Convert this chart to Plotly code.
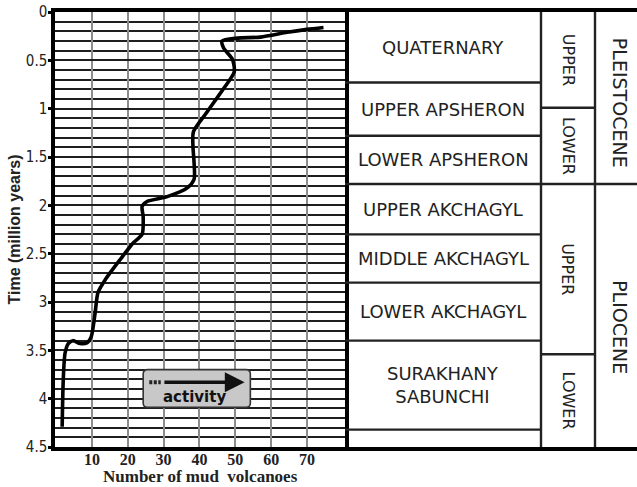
import plotly.graph_objects as go

# ---------------- data ----------------
# cumulative number of mud volcanoes vs time (million years)
volcano_count = [1.7, 2.0, 2.5, 3.4, 4.7, 6.7, 8.7, 9.8, 10.9, 11.7, 13.7, 17.9, 21.5, 24.0,
                 24.3, 24.0, 25.4, 31.0, 36.6, 38.5, 38.5, 38.2, 38.3, 42.0, 46.6, 49.7,
                 49.2, 46.7, 46.3, 50.6, 57.0, 64.5, 70.0, 74.6]
time_myr = [4.29, 3.81, 3.53, 3.43, 3.40, 3.43, 3.42, 3.36, 3.11, 2.90, 2.77, 2.56, 2.39, 2.30,
            2.12, 2.01, 1.96, 1.91, 1.82, 1.73, 1.56, 1.40, 1.24, 1.04, 0.80, 0.62,
            0.49, 0.37, 0.30, 0.27, 0.26, 0.21, 0.18, 0.16]

x_tick_vals = [10, 20, 30, 40, 50, 60, 70]
x_tick_text = ["10", "20", "30", "40", "50", "60", "70"]
y_tick_vals = [0, 0.5, 1, 1.5, 2, 2.5, 3, 3.5, 4, 4.5]
y_tick_text = ["0", "0.5", "1", "1.5", "2", "2.5", "3", "3.5", "4", "4.5"]

# stratigraphic table (boundaries in million years)
stage_names = ["QUATERNARY", "UPPER APSHERON", "LOWER APSHERON", "UPPER AKCHAGYL",
               "MIDDLE AKCHAGYL", "LOWER AKCHAGYL", "SURAKHANY<br>SABUNCHI", ""]
stage_bounds = [0, 0.73, 1.28, 1.78, 2.30, 2.80, 3.40, 4.32, 4.5]
sub_names = ["UPPER", "LOWER", "UPPER", "LOWER"]
sub_bounds = [0, 0.99, 1.78, 3.54, 4.5]
epoch_names = ["PLEISTOCENE", "PLIOCENE"]
epoch_bounds = [0, 1.78, 4.5]

# ---------------- layout constants ----------------
W, H = 637, 487
ML, MR, MT, MB = 55, 0, 12, 40
plot_h = H - MT - MB
plot_w = W - ML - MR
split = 290 / plot_w
col_edges = [0, 196, 250, 292]   # table column edges (px units on x2)
epoch_label_shift = [0.05, 0.12]

fig = go.Figure()
fig.add_trace(go.Scatter(x=volcano_count, y=time_myr, mode="lines",
                         line=dict(color="black", width=3.6, shape="spline", smoothing=0.7),
                         xaxis="x", yaxis="y", showlegend=False, hoverinfo="skip"))
fig.add_trace(go.Scatter(x=[], y=[], xaxis="x2", yaxis="y2", showlegend=False))

shapes = []
annotations = []
LW = 2.4
for b in stage_bounds[1:-1]:
    shapes.append(dict(type="line", xref="x2", yref="y2", x0=col_edges[0], x1=col_edges[1],
                       y0=b, y1=b, line=dict(color="#222", width=LW)))
for b in sub_bounds[1:-1]:
    shapes.append(dict(type="line", xref="x2", yref="y2", x0=col_edges[1], x1=col_edges[2],
                       y0=b, y1=b, line=dict(color="#222", width=LW)))
for b in epoch_bounds[1:-1]:
    shapes.append(dict(type="line", xref="x2", yref="y2", x0=col_edges[2], x1=col_edges[3],
                       y0=b, y1=b, line=dict(color="#222", width=LW)))
for cx in col_edges[1:3]:
    shapes.append(dict(type="line", xref="x2", yref="y2", x0=cx, x1=cx, y0=0, y1=4.5,
                       line=dict(color="#222", width=LW)))

tfont = dict(family="DejaVu Sans", size=18, color="#222")
for i, name in enumerate(stage_names):
    if name:
        annotations.append(dict(xref="x2", yref="y2", x=(col_edges[0] + col_edges[1]) / 2,
                                y=(stage_bounds[i] + stage_bounds[i + 1]) / 2, text=name,
                                showarrow=False, font=tfont))
for i, name in enumerate(sub_names):
    annotations.append(dict(xref="x2", yref="y2", x=(col_edges[1] + col_edges[2]) / 2,
                            y=(sub_bounds[i] + sub_bounds[i + 1]) / 2, text=name, textangle=90,
                            showarrow=False, font=dict(family="DejaVu Sans", size=16, color="#222")))
for i, name in enumerate(epoch_names):
    annotations.append(dict(xref="x2", yref="y2", x=(col_edges[2] + col_edges[3]) / 2 + 4,
                            y=(epoch_bounds[i] + epoch_bounds[i + 1]) / 2 + epoch_label_shift[i],
                            text=name, textangle=90, showarrow=False,
                            font=dict(family="DejaVu Sans", size=19, color="#222")))

# activity box
x0, x1, y0, y1 = 24.3, 54.2, 3.70, 4.09
rx, ry = 1.2, 0.045
path = (f"M {x0+rx},{y0} L {x1-rx},{y0} Q {x1},{y0} {x1},{y0+ry} L {x1},{y1-ry} "
        f"Q {x1},{y1} {x1-rx},{y1} L {x0+rx},{y1} Q {x0},{y1} {x0},{y1-ry} "
        f"L {x0},{y0+ry} Q {x0},{y0} {x0+rx},{y0} Z")
shapes.append(dict(type="path", xref="x", yref="y", path=path, fillcolor="#c8c8c8",
                   line=dict(color="#333", width=1.6)))
shapes.append(dict(type="line", xref="x", yref="y", x0=26.0, x1=29.2, y0=3.83, y1=3.83,
                   line=dict(color="#222", width=4, dash="3px,1.5px")))
annotations.append(dict(xref="x", yref="y", x=52.6, y=3.83, ax=29.8, ay=3.83, axref="x", ayref="y",
                        showarrow=True, arrowhead=2, arrowwidth=3.6, arrowsize=1.1, arrowcolor="#111",
                        text=""))
annotations.append(dict(xref="x", yref="y", x=38.5, y=3.98, text="activity", showarrow=False,
                        font=dict(family="DejaVu Sans", size=15, color="#111", weight="bold")))

# axis titles
annotations.append(dict(xref="paper", yref="paper", x=split / 2, y=-30 / plot_h,
                        xanchor="center", yanchor="middle", showarrow=False,
                        text="Number of mud\u00a0 volcanoes",
                        font=dict(family="Liberation Serif", size=17, color="#222", weight="bold")))
annotations.append(dict(xref="paper", yref="paper", x=(14 - ML) / plot_w, y=0.5,
                        xanchor="center", yanchor="middle", showarrow=False, textangle=-90,
                        text="Time (million years)",
                        font=dict(family="Liberation Sans, Arial", size=16, color="#222", weight="bold")))

fig.update_layout(
    width=W, height=H, margin=dict(l=ML, r=MR, t=MT, b=MB),
    paper_bgcolor="white", plot_bgcolor="white",
    shapes=shapes, annotations=annotations, showlegend=False,
    xaxis=dict(domain=[0, split], range=[-0.3, 80.6], tickmode="array", tickvals=x_tick_vals,
               ticktext=x_tick_text, showgrid=True, gridcolor="#8c8c8c", gridwidth=1.5,
               zeroline=False, showline=True, mirror=True, linecolor="black", linewidth=4,
               ticks="", automargin=False, ticklabelstandoff=-5,
               tickfont=dict(family="Liberation Serif", size=16, color="#222", weight="bold")),
    yaxis=dict(domain=[0, 1], range=[4.5, 0], tickmode="array", tickvals=y_tick_vals,
               ticktext=y_tick_text, showgrid=True, gridcolor="#1e1e1e", gridwidth=1.5,
               minor=dict(tickmode="linear", tick0=0, dtick=0.1, showgrid=True,
                          gridcolor="#1e1e1e", gridwidth=1.5, ticks=""),
               zeroline=False, showline=True, mirror=True, linecolor="black", linewidth=3.5,
               ticks="outside", ticklen=3, tickwidth=3, tickcolor="black", automargin=False,
               ticklabeloverflow="allow", ticklabelstandoff=-2,
               tickfont=dict(family="Liberation Sans Narrow, DejaVu Sans Condensed", size=15, color="#222")),
    xaxis2=dict(domain=[split, 1], range=[0, 292], anchor="y2", showgrid=False, zeroline=False,
                showticklabels=False, ticks="", showline=True, mirror=True, linecolor="black",
                linewidth=4),
    yaxis2=dict(domain=[0, 1], range=[4.5, 0], anchor="x2", showgrid=False, zeroline=False,
                showticklabels=False, ticks="", showline=False),
)

# remove the default 8px page margin so the 637x487 figure fills the window exactly
fig.write_html("out.html", config=dict(displayModeBar=False),
               post_script="document.body.style.margin='0';")
